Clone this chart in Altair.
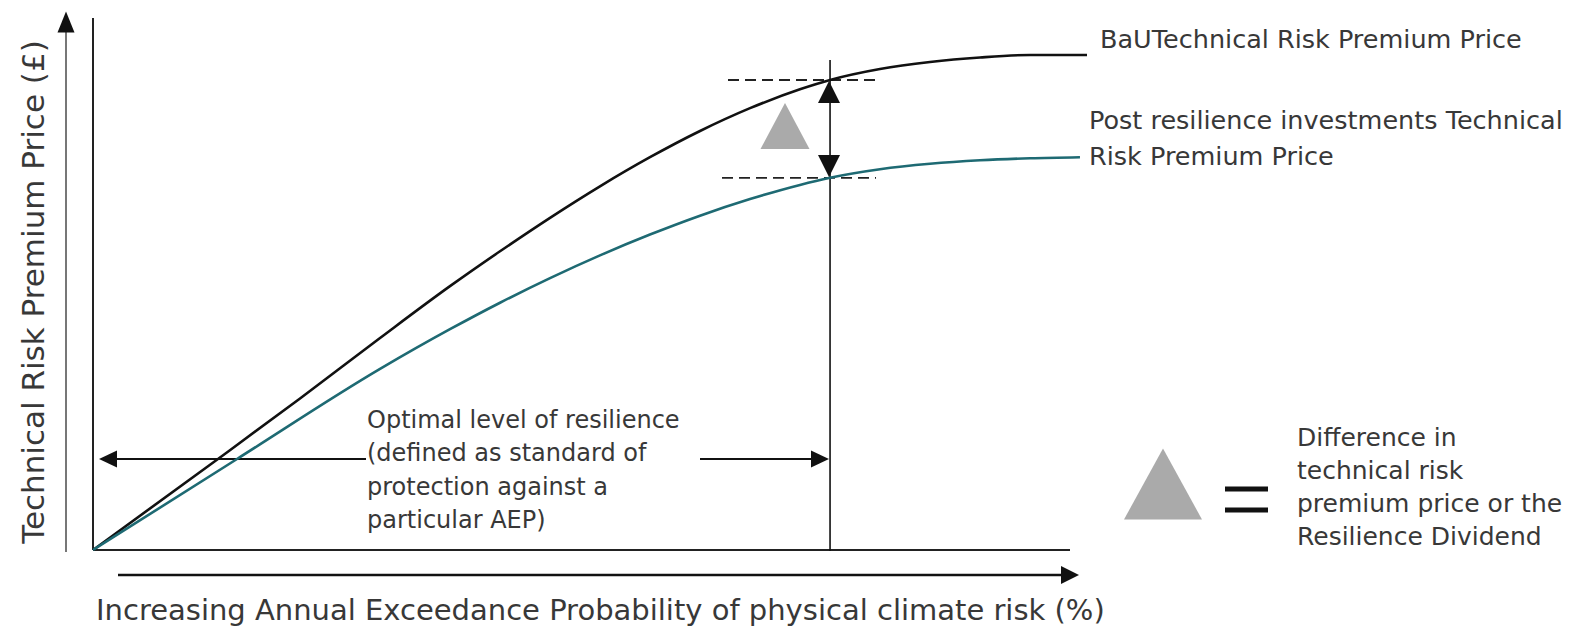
import altair as alt
import pandas as pd

# ---------------- data (x: 0-100 along AEP axis, y: 0-100 price) -------------
bau_x = [0, 12.79, 21.19, 29.38, 36.54, 41.66, 46.78, 51.89, 57.01, 62.13, 67.25, 72.36,
         75.44, 80.55, 85.67, 90.79, 95.91, 101.74]
bau_y = [0, 17.11, 28.48, 39.85, 49.59, 56.15, 62.44, 68.36, 73.83, 78.76, 83.05, 86.60,
         88.35, 90.41, 91.73, 92.58, 93.05, 93.05]
post_x = [0, 14.74, 29.38, 36.54, 41.66, 46.78, 51.89, 57.01, 62.13, 67.25, 72.36,
          75.44, 80.55, 85.67, 90.79, 95.91, 101.02]
post_y = [0, 17.11, 34.04, 41.50, 46.48, 51.11, 55.38, 59.29, 62.84, 65.96, 68.63,
          69.96, 71.56, 72.59, 73.25, 73.63, 73.82]
series_names = ["BaU", "Post"]
series_colors = ["#111111", "#1e6a73"]

optimal_x = 75.44  # optimal level of resilience (vertical line)
bau_at_opt = 88.35
post_at_opt = 69.96

label_bau = ["BaUTechnical Risk Premium Price"]
label_post = ["Post resilience investments Technical", "Risk Premium Price"]
label_optimal = ["Optimal level of resilience", "(defined as standard of",
                 "protection against a", "particular AEP)"]
label_legend = ["Difference in", "technical risk", "premium price or the",
                "Resilience Dividend"]
x_title = "Increasing Annual Exceedance Probability of physical climate risk (%)"
y_title = "Technical Risk Premium Price (\u00a3)"

# ---------------- layout helpers ----------------
W, H = 1557, 620


def X(px):
    return (px - 93) / 9.77


def Y(py):
    return (550 - py) / 5.32


XS = alt.Scale(domain=[X(8), X(8 + W)], nice=False, zero=False)
YS = alt.Scale(domain=[Y(8 + H), Y(8)], nice=False, zero=False)
FONT = "DejaVu Sans"
TXT = "#383838"

curves = pd.DataFrame(
    [{"s": series_names[0], "x": a, "y": b, "o": i} for i, (a, b) in enumerate(zip(bau_x, bau_y))]
    + [{"s": series_names[1], "x": a, "y": b, "o": i} for i, (a, b) in enumerate(zip(post_x, post_y))]
)

line = alt.Chart(curves).mark_line(interpolate="monotone", strokeWidth=2.6).encode(
    x=alt.X("x:Q", scale=XS, axis=None),
    y=alt.Y("y:Q", scale=YS, axis=None),
    color=alt.Color("s:N", scale=alt.Scale(domain=series_names, range=series_colors), legend=None),
    order="o:Q",
)

rules = pd.DataFrame([
    dict(x=X(93), x2=X(93), y=Y(18), y2=Y(550), c="#222222", w=2),
    dict(x=X(93), x2=X(1070), y=Y(550), y2=Y(550), c="#222222", w=2),
    dict(x=X(66), x2=X(66), y=Y(552), y2=Y(30), c="#777777", w=2),
    dict(x=X(118), x2=X(1064), y=Y(575), y2=Y(575), c="#111111", w=2.5),
    dict(x=optimal_x, x2=optimal_x, y=Y(60), y2=Y(551), c="#111111", w=1.6),
    dict(x=X(112), x2=X(366), y=Y(459), y2=Y(459), c="#111111", w=2),
    dict(x=X(700), x2=X(812), y=Y(459), y2=Y(459), c="#111111", w=2),
    dict(x=X(1225), x2=X(1268), y=Y(489), y2=Y(489), c="#111111", w=5),
    dict(x=X(1225), x2=X(1268), y=Y(510), y2=Y(510), c="#111111", w=5),
])
rule_layer = alt.Chart(rules).mark_rule(strokeCap="butt").encode(
    x=alt.X("x:Q", scale=XS, axis=None), x2="x2:Q",
    y=alt.Y("y:Q", scale=YS, axis=None), y2="y2:Q",
    color=alt.Color("c:N", scale=None),
    strokeWidth=alt.StrokeWidth("w:Q", scale=None),
)

dashes = pd.DataFrame([
    dict(x=X(728), x2=X(878), y=bau_at_opt, y2=bau_at_opt),
    dict(x=X(722), x2=X(876), y=post_at_opt, y2=post_at_opt),
])
dash_layer = alt.Chart(dashes).mark_rule(strokeDash=[11, 6], strokeWidth=1.8, color="#222222").encode(
    x=alt.X("x:Q", scale=XS, axis=None), x2="x2:Q",
    y=alt.Y("y:Q", scale=YS, axis=None), y2="y2:Q",
)


def tri(direction, w, h):
    r = h / w
    if direction == "up":
        return f"M0,-{r}L1,{r}L-1,{r}Z", w * w
    if direction == "down":
        return f"M0,{r}L1,-{r}L-1,-{r}Z", w * w
    if direction == "right":
        return f"M{r},0L-{r},-1L-{r},1Z", w * w
    return f"M-{r},0L{r},-1L{r},1Z", w * w


def head(direction, cx, cy, w, h, color):
    p, s = tri(direction, w, h)
    return dict(x=X(cx), y=Y(cy), shape=p, size=s, c=color)


heads = pd.DataFrame([
    head("up", 66, 22, 17, 21, "#111111"),
    head("right", 1070, 575, 18, 18, "#111111"),
    head("left", 108, 459, 17, 18, "#111111"),
    head("right", 820, 459, 17, 18, "#111111"),
    head("up", 829, 92, 22, 22, "#111111"),
    head("down", 829, 166, 22, 22, "#111111"),
    head("up", 785, 126, 49, 46, "#aaaaaa"),
    head("up", 1163, 484, 78, 71, "#aaaaaa"),
])
head_layer = alt.Chart(heads).mark_point(filled=True, opacity=1, strokeWidth=0).encode(
    x=alt.X("x:Q", scale=XS, axis=None),
    y=alt.Y("y:Q", scale=YS, axis=None),
    shape=alt.Shape("shape:N", scale=None),
    size=alt.Size("size:Q", scale=None),
    color=alt.Color("c:N", scale=None),
)


def text_rows(lines, px, py0, step, size):
    return [dict(x=X(px), y=Y(py0 + i * step), t=t, fs=size) for i, t in enumerate(lines)]


texts = pd.DataFrame(
    text_rows(label_bau, 1100, 40, 0, 25.5)
    + text_rows(label_post, 1089, 121, 36, 25.5)
    + text_rows(label_optimal, 367, 421, 33.3, 24)
    + text_rows(label_legend, 1297, 438, 33, 25)
    + text_rows([x_title], 96, 611, 0, 29)
)
text_layer = alt.Chart(texts).mark_text(align="left", baseline="middle", font=FONT, color=TXT).encode(
    x=alt.X("x:Q", scale=XS, axis=None),
    y=alt.Y("y:Q", scale=YS, axis=None),
    text="t:N",
    size=alt.Size("fs:Q", scale=None),
)

ytitle = pd.DataFrame([dict(x=X(35), y=Y(292), t=y_title)])
ytitle_layer = alt.Chart(ytitle).mark_text(align="center", baseline="middle", font=FONT, color=TXT,
                                           angle=270, fontSize=31).encode(
    x=alt.X("x:Q", scale=XS, axis=None),
    y=alt.Y("y:Q", scale=YS, axis=None),
    text="t:N",
)

chart = alt.layer(rule_layer, dash_layer, line, head_layer, text_layer, ytitle_layer).properties(
    width=W, height=H, padding=0, autosize="none", background="white"
).configure_view(stroke=None)

chart.save("out.html", embed_options={"renderer": "svg", "actions": False})
